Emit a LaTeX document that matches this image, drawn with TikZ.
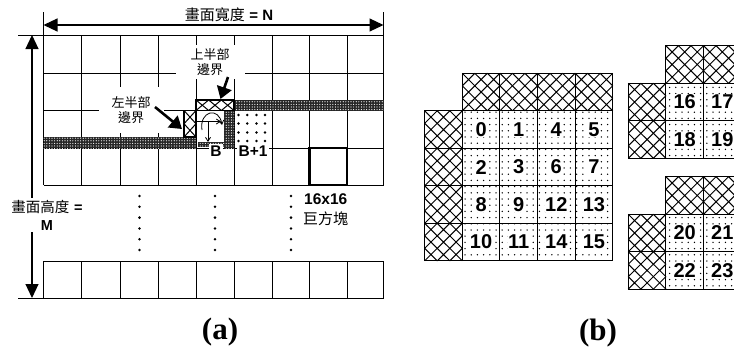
\documentclass[tikz,border=0pt]{standalone}
\usepackage{fontspec}
\newfontfamily\lsans{Liberation Sans}
\newfontfamily\cjk{Noto Sans CJK TC}
\newfontfamily\lserif{Liberation Serif}
\usetikzlibrary{patterns,patterns.meta,arrows.meta}
\newcommand{\xhatch}[6]{%
  \pgfmathsetmacro\hxw{#3/#5}\pgfmathsetmacro\hxh{#4/#6}%
  \foreach \i in {1,...,#5}{\foreach \j in {1,...,#6}{%
    \draw[hatchline] ({#1+(\i-1)*\hxw},{#2+(\j-1)*\hxh}) -- ++(\hxw,\hxh)
      ({#1+\i*\hxw},{#2+(\j-1)*\hxh}) -- ++(-\hxw,\hxh);}}}
\newcommand{\hcell}[4]{%
  \fill[white] (#1,#2) rectangle ++(#3,#4);
  \xhatch{#1}{#2}{#3}{#4}{3}{3}
  \draw[cellline] (#1,#2) rectangle ++(#3,#4);}
\begin{document}
\begin{tikzpicture}[x=1pt,y=-1pt,
  grid/.style={line width=0.9pt},
  cellline/.style={line width=1.1pt},
  hatchline/.style={line width=1pt},
  noisy/.style={fill=black!85, postaction={pattern={Dots[distance=2.6pt,radius=0.6pt]}, pattern color=white}},
  dimarrow/.style={line width=1.1pt, {Triangle[length=14pt,width=13pt]}-{Triangle[length=14pt,width=13pt]}},
  bigarrow/.style={line width=2.6pt, -{Triangle[length=12pt,width=15pt]}},
  smallarrow/.style={line width=0.8pt, -{Straight Barb[length=4pt,width=5pt]}},
  cjklbl/.style={font=\cjk\fontsize{13}{15.5}\selectfont, align=center, fill=white},
  boldlbl/.style={font=\lsans\bfseries\fontsize{15.5}{15.5}\selectfont},
  numcell/.style={draw, line width=1.1pt, minimum width=37.6pt, minimum height=37.5pt,
    inner sep=0pt, pattern={Dots[distance=6.2pt,radius=0.75pt]}},
  numtext/.style={fill=white, inner sep=0.6pt, font=\lsans\bfseries\fontsize{20}{20}\selectfont},
  sublbl/.style={font=\lserif\bfseries\fontsize{31}{31}\selectfont}
]
\useasboundingbox (0,0) rectangle (734,354);

% ---------------- (a) ----------------
\foreach \x in {43.5,81.5,120,158,196,234,272,309.5,347,383.5} {
  \draw[grid] (\x,35) -- (\x,185);
  \draw[grid] (\x,261) -- (\x,298);
}
\foreach \y in {73,110.5,148,185,261} {\draw[grid] (43.5,\y) -- (383.5,\y);}
\draw[grid] (18,35) -- (383.5,35);
\draw[grid] (18,298) -- (383.5,298);
\draw[grid] (43.5,12) -- (43.5,35);
\draw[grid] (383.5,12) -- (383.5,35);

% dimension arrows
\coordinate (wl) at (43.5,25);
\coordinate (wr) at (383.5,25);
\draw[dimarrow] (wl) -- (wr);
\node[font=\fontsize{15}{17}\selectfont] (wlbl) at (229,15) {{\cjk 畫面寬度} {\lsans\bfseries = N}};
\coordinate (ht) at (32,35);
\coordinate (hb) at (32,298);
\draw[dimarrow] (ht) -- (hb);
\node[fill=white, align=center, inner sep=2pt, font=\fontsize{14.5}{18}\selectfont] (hlbl) at (47,215)
  {{\cjk 畫面高度} {\lsans\bfseries =}\\{\lsans\bfseries M}};

% boundary strips
\fill[noisy] (234,100) rectangle (383.5,110.5);
\fill[noisy] (43.5,137) rectangle (196,148);
\fill[noisy] (224,110.5) rectangle (234,148);
\fill[noisy] (198,142) rectangle (224,147);
\fill[white] (196,100) rectangle (234,110.5);
\xhatch{196}{100}{38}{10.5}{3}{1}
\draw[cellline] (196,100) rectangle (234,110.5);
\fill[white] (184,110.5) rectangle (196,137);
\xhatch{184}{110.5}{12}{26.5}{1}{2}
\draw[cellline] (184,110.5) rectangle (196,137);

% filtering arrows inside B
\coordinate (h1) at (197,121.5);
\coordinate (h2) at (221,121.5);
\draw[smallarrow] (h1) -- (h2);
\coordinate (v1) at (208,121.5);
\coordinate (v2) at (208,142);
\draw[smallarrow] (v1) -- (v2);
\coordinate (c1) at (202,130);
\coordinate (c2) at (222,125);
\draw[smallarrow] (c1) .. controls (199,111) and (219,106) .. (c2);

% B+1 dots
\foreach \x in {238.5,247.3,256.5,265} {
  \foreach \y in {115,123.5,132.5,141} {
    \fill (\x,\y) circle[radius=1.4pt];}}

% labels with arrows
\node[cjklbl, inner xsep=15pt, inner ysep=3pt] (up) at (210,62) {上半部\\邊界};
\node[cjklbl, inner xsep=13pt, inner ysep=9pt] (left) at (131,110) {左半部\\邊界};
\coordinate (ua1) at (228,77);
\coordinate (ua2) at (220.5,99);
\draw[bigarrow] (ua1) -- (ua2);
\coordinate (la1) at (155,107);
\coordinate (la2) at (182,129);
\draw[bigarrow] (la1) -- (la2);

\node[boldlbl, fill=white, inner sep=1.5pt] (B) at (216,151) {B};
\node[boldlbl, fill=white, inner sep=1.5pt] (B1) at (253,151) {B+1};

% macroblock
\draw[line width=2.5pt] (309.5,148) rectangle (347,185);
\node[boldlbl, anchor=west, inner sep=0pt] (mb1) at (304,199) {16x16};
\node[font=\cjk\fontsize{15}{15}\selectfont, anchor=west, inner sep=0pt] (mb2) at (303,219) {巨方塊};

% vertical dots
\foreach \x in {139.5,215,291} {
  \foreach \k in {0,...,5} {
    \fill (\x,{196+10.8*\k}) circle[radius=1.4pt];}}

\node[sublbl] (la) at (220,332) {(a)};

% ---------------- (b) ----------------
\foreach \xx in {462.3,499.9,537.5,575.1} {\hcell{\xx}{73.3}{37.6}{37.5}}
\foreach \yy in {110.8,148.3,185.8,223.3} {\hcell{424.7}{\yy}{37.6}{37.5}}
\foreach \n [count=\k from 0] in {0,1,4,5,2,3,6,7,8,9,12,13,10,11,14,15} {
  \pgfmathtruncatemacro\cc{mod(\k,4)}
  \pgfmathtruncatemacro\rr{int(\k/4)}
  \node[numcell] (n\n) at ({462.3+37.6*\cc+18.8},{110.8+37.5*\rr+18.75}) {};
  \node[numtext] (t\n) at (n\n) {\n};
}

% top-right group
\hcell{665.9}{45.7}{37.6}{37.6}
\hcell{703.5}{45.7}{37.6}{37.6}
\hcell{628.3}{83.3}{37.6}{37.5}
\hcell{628.3}{120.8}{37.6}{37.5}
\node[numcell] (n16) at (684.7,102.05) {};
\node[numcell] (n17) at (722.3,102.05) {};
\node[numcell] (n18) at (684.7,139.55) {};
\node[numcell] (n19) at (722.3,139.55) {};
\foreach \n in {16,17,18,19} {\node[numtext] (t\n) at (n\n) {\n};}

% bottom-right group
\hcell{665.9}{176.7}{37.6}{37.6}
\hcell{703.5}{176.7}{37.6}{37.6}
\hcell{628.3}{214.3}{37.6}{37.4}
\hcell{628.3}{251.7}{37.6}{37.4}
\node[numcell] (n20) at (684.7,233) {};
\node[numcell] (n21) at (722.3,233) {};
\node[numcell] (n22) at (684.7,270.4) {};
\node[numcell] (n23) at (722.3,270.4) {};
\foreach \n in {20,21,22,23} {\node[numtext] (t\n) at (n\n) {\n};}

\node[sublbl] (lb) at (598,333) {(b)};
\end{tikzpicture}
\end{document}
